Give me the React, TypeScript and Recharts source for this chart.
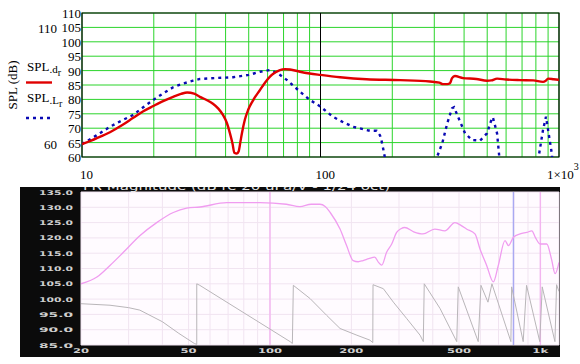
import React from 'react';
import { LineChart, Line, XAxis, YAxis, CartesianGrid, ReferenceLine, ReferenceArea } from 'recharts';

// ---------- Top chart (Mathcad style) ----------
const topFreqTicks = [10, 20, 30, 40, 50, 60, 70, 80, 90, 100, 200, 300, 400, 500, 600, 700, 800, 900, 1000];
const topSplTicks = [60, 65, 70, 75, 80, 85, 90, 95, 100, 105, 110];
const topXLabelValues = [10, 100, 1000];

const redFreq = [10, 11.5, 13.1, 14.7, 16.4, 18, 19.9, 22, 24.1, 26, 27.6, 29.5, 31.2, 33.3, 35.4, 37.3, 39, 40.5, 41.7, 42.8, 43.5, 44.6, 45.4, 46.2, 46.9, 48.2, 49.7, 52, 55.8, 58.5, 61.4, 64.5, 67.6, 71, 74.5, 82, 90, 100, 120.8, 156, 216, 287.7, 315, 326, 340, 349, 356, 366, 396, 450, 499, 520, 550, 600, 686, 780, 857, 880, 900, 950, 1000];
const redSPL = [64.5, 66.5, 68.6, 71, 73.6, 75.8, 77.7, 79.5, 80.9, 81.9, 82.4, 82, 80.9, 79.8, 78.5, 76.8, 74.6, 71.8, 68.3, 64.5, 61.5, 61.2, 62, 65.5, 68.5, 73, 76.3, 79.5, 83.3, 85.8, 87.9, 89.3, 90.2, 90.5, 90.4, 89.6, 89, 88.5, 87.7, 87, 86.7, 86.2, 85.8, 85.3, 85.3, 85.6, 87.4, 88.1, 87.4, 87.1, 86.5, 86.6, 87.2, 86.9, 86.7, 86.6, 86.1, 86.5, 87.2, 87, 86.8];

const blueFreq = [10, 11.5, 13.1, 14.7, 16.4, 18, 19.9, 22, 24.1, 26.5, 29.2, 31.2, 36, 43, 50, 55.8, 61.4, 65.6, 72.4, 82, 90.3, 100, 112.6, 125, 136.7, 161, 172, 177.6, 180, 183, 186, 189, 304, 308, 324, 340, 356, 363, 377, 404, 432, 467, 499, 523, 528, 550, 561, 565, 820, 824, 857, 882, 900, 935, 940, 1000];
const blueSPL = [64.5, 67.5, 70.5, 72.7, 74.6, 77.2, 79.8, 82.2, 84.2, 85.5, 86.5, 87.1, 87.4, 87.7, 88.5, 89.6, 90.2, 89.3, 86.7, 82.7, 79.8, 77.5, 74, 72, 70.5, 69.1, 69.1, 67.5, 65.9, 63, 60, 45, 45, 60, 64.8, 71.7, 76.9, 77.3, 74, 68.2, 65.9, 65.7, 68.2, 73.4, 73.8, 68.2, 60.7, 45, 45, 60.7, 69.4, 74, 69.4, 60.7, 45, 45];

// ---------- Bottom chart (REW style) ----------
const botFreqTicks = [20, 30, 40, 50, 60, 70, 80, 90, 100, 200, 300, 400, 500, 600, 700, 800, 900, 1000];
const botDbTicks = [85, 90, 95, 100, 105, 110, 115, 120, 125, 130, 135];
const botXLabelValues = [20, 50, 100, 200, 500, 1000];
const botXLabelTexts = ['20', '50', '100', '200', '500', '1k'];
const botTitle = 'FR Magnitude (dB re 20 uPa/V - 1/24 oct)';
const markerPink = [100, 1000];
const markerBlue = [795];

const pinkFreq = [20, 22.9, 25.6, 28.7, 33, 38.1, 43.9, 49.2, 55.1, 69.2, 91.8, 115, 129, 142, 153, 160, 167, 181.6, 192, 203, 212, 221, 232, 244, 252, 259, 270, 282, 294, 305, 315, 340, 368, 407, 443, 483, 510, 533, 573, 598, 633, 670, 699, 740, 762, 795, 842, 891, 930, 960, 998, 1056, 1100, 1134, 1172];
const pinkDb = [105, 107.2, 111, 115.3, 120.7, 125, 128.3, 129.7, 130.1, 131.5, 131.5, 131, 130.2, 131, 131, 130.3, 128.3, 122.9, 117.5, 112.6, 112.2, 112.6, 113.2, 113.7, 112, 111.1, 115.3, 118, 121.8, 123, 123.4, 122, 121.3, 122.9, 122.3, 125, 124, 122.9, 121.3, 116.4, 111, 105.6, 111, 119.1, 117.5, 120.2, 121.3, 121.8, 122.3, 120, 118, 118, 113, 108.3, 112];

const grayFreq = [20, 25.6, 30, 33, 40, 46, 52.5, 53.6, 53.6, 55, 118.7, 121, 122, 140.6, 162, 181.6, 209.6, 234, 240, 240.5, 262.6, 286, 320, 359, 369, 372, 425.8, 490.6, 497, 589, 603, 640, 662, 778, 783, 864, 889, 995, 1016, 1132, 1148, 1172];
const grayDb = [98.5, 98, 97.2, 96.4, 92.6, 88.8, 85.5, 85.2, 105, 104.5, 86.1, 85.5, 104.5, 100.2, 94.7, 90.4, 88.2, 86.6, 85.8, 104.7, 103.4, 99, 93.7, 88.2, 86.1, 105, 96.9, 86.1, 104, 86.1, 104.5, 99, 105, 86.1, 104, 86.1, 104.5, 86.1, 104, 86.1, 104.7, 102.5];

const redData = redFreq.map((f, i) => ({ f, v: redSPL[i] }));
const blueData = blueFreq.map((f, i) => ({ f, v: blueSPL[i] }));
const pinkData = pinkFreq.map((f, i) => ({ f, v: pinkDb[i] }));
const grayData = grayFreq.map((f, i) => ({ f, v: grayDb[i] }));

const SERIF = '"Liberation Serif", "Times New Roman", serif';
const SANS = '"DejaVu Sans", sans-serif';

const TopXTick = (props: any) => {
  const { x, y, payload } = props;
  const v = payload.value;
  if (!topXLabelValues.includes(v)) return <g />;
  if (v === 1000) {
    return (
      <text x={x - 12} y={y + 22} fontFamily={SERIF} fontSize={13} fill="#000">
        1×10<tspan dy={-9} fontSize={10}>3</tspan>
      </text>
    );
  }
  const dx = v === 10 ? -2 : -5;
  return (
    <text x={x + dx} y={y + 22} fontFamily={SERIF} fontSize={13} fill="#000">
      {String(v)}
    </text>
  );
};

const TopYTick = (props: any) => {
  const { x, y, payload } = props;
  return (
    <text x={x - 1} y={y + 5} textAnchor="end" fontFamily={SERIF} fontSize={13} fill="#000">
      {String(payload.value)}
    </text>
  );
};

const BotXTick = (props: any) => {
  const { x, y, payload } = props;
  const idx = botXLabelValues.indexOf(payload.value);
  if (idx < 0) return <g />;
  const t = botXLabelTexts[idx];
  const w = t.length * 8;
  return (
    <text x={x - w / 2} y={y + 8} textLength={w} lengthAdjust="spacingAndGlyphs" fontFamily={SANS} fontWeight="bold" fontSize={6.5} fill="#cfcfcf">
      {t}
    </text>
  );
};

const BotYTick = (props: any) => {
  const { x, y, payload } = props;
  return (
    <text x={x - 42} y={y + 2.5} textLength={34} lengthAdjust="spacingAndGlyphs" fontFamily={SANS} fontWeight="bold" fontSize={6.5} fill="#cfcfcf">
      {Number(payload.value).toFixed(1)}
    </text>
  );
};

export default function App() {
  return (
    <div style={{ position: 'absolute', left: 0, top: 0, width: 580, height: 364, background: '#fff', overflow: 'hidden' }}>
      {/* Top chart */}
      <div style={{ position: 'absolute', left: 0, top: 0 }}>
        <LineChart width={580} height={185} margin={{ top: 13, right: 21, left: 0, bottom: 0 }}>
          <CartesianGrid stroke="#2bd42b" strokeWidth={1} fill="#fff" />
          <XAxis
            dataKey="f"
            type="number"
            scale="log"
            domain={[10, 1000]}
            allowDataOverflow
            ticks={topFreqTicks}
            interval={0}
            tick={<TopXTick />}
            tickSize={0}
            tickMargin={0}
            axisLine={false}
            tickLine={false}
            height={28}
          />
          <YAxis
            type="number"
            domain={[60, 110]}
            allowDataOverflow
            ticks={topSplTicks}
            interval={0}
            tick={<TopYTick />}
            tickSize={0}
            tickMargin={0}
            axisLine={false}
            tickLine={false}
            width={82}
          />
          <ReferenceLine x={100} stroke="#000" strokeWidth={1} />
          <ReferenceArea x1={10} x2={1000} y1={60} y2={110} fill="none" stroke="#000" strokeWidth={1.2} />
          <Line data={blueData} dataKey="v" type="linear" stroke="#0a0ab4" strokeWidth={2.4} strokeDasharray="3 4" dot={false} isAnimationActive={false} />
          <Line data={redData} dataKey="v" type="monotone" stroke="#e00000" strokeWidth={2.4} dot={false} isAnimationActive={false} />
        </LineChart>
      </div>

      {/* Top chart decorations */}
      <svg width={580} height={186} style={{ position: 'absolute', left: 0, top: 0 }}>
        <text x={57} y={33} textAnchor="end" fontFamily={SERIF} fontSize={13}>110</text>
        <text x={57} y={149} textAnchor="end" fontFamily={SERIF} fontSize={13}>60</text>
        <text transform="translate(17,85) rotate(-90)" textAnchor="middle" fontFamily={SERIF} fontSize={13}>SPL (dB)</text>
        <text x={27} y={71} fontFamily={SERIF} fontSize={13}>
          SPL<tspan fontSize={11} dy={1.5}>.d</tspan><tspan fontSize={10} dy={3}>r</tspan>
        </text>
        <line x1={26} x2={52} y1={82.5} y2={82.5} stroke="#e00000" strokeWidth={2.4} />
        <text x={27} y={102} fontFamily={SERIF} fontSize={13}>
          SPL<tspan fontSize={11} dy={1.5}>.L</tspan><tspan fontSize={10} dy={3}>r</tspan>
        </text>
        <line x1={26} x2={52} y1={118} y2={118} stroke="#0a0ab4" strokeWidth={2.4} strokeDasharray="3 4" />
      </svg>

      {/* Bottom chart black band */}
      <div style={{ position: 'absolute', left: 20, top: 187, width: 540, height: 170, background: '#0b0b0b' }} />

      {/* Bottom chart */}
      <div style={{ position: 'absolute', left: 0, top: 187 }}>
        <LineChart width={580} height={170} margin={{ top: 5, right: 21, left: 0, bottom: 0 }}>
          <CartesianGrid stroke="#f1e4f1" strokeWidth={1} fill="#fffbff" />
          <XAxis
            dataKey="f"
            type="number"
            scale="log"
            domain={[20, 1172]}
            allowDataOverflow
            ticks={botFreqTicks}
            interval={0}
            tick={<BotXTick />}
            tickSize={0}
            tickMargin={0}
            axisLine={false}
            tickLine={false}
            height={12}
          />
          <YAxis
            type="number"
            domain={[85, 135]}
            allowDataOverflow
            ticks={botDbTicks}
            interval={0}
            tick={<BotYTick />}
            tickSize={0}
            tickMargin={0}
            axisLine={false}
            tickLine={false}
            width={81}
          />
          {markerPink.map((m) => (
            <ReferenceLine key={'p' + m} x={m} stroke="#f3b4f0" strokeWidth={1.4} />
          ))}
          {markerBlue.map((m) => (
            <ReferenceLine key={'b' + m} x={m} stroke="#a9a9f2" strokeWidth={1.4} />
          ))}
          <Line data={grayData} dataKey="v" type="linear" stroke="#b9b6b9" strokeWidth={1} dot={false} isAnimationActive={false} />
          <Line data={pinkData} dataKey="v" type="monotone" stroke="#f09cf0" strokeWidth={1.3} dot={false} isAnimationActive={false} />
        </LineChart>
      </div>

      {/* Bottom chart title (clipped at the band top) */}
      <svg width={580} height={5} style={{ position: 'absolute', left: 0, top: 187 }}>
        <text x={83} y={3} textLength={307} lengthAdjust="spacingAndGlyphs" fontFamily={SANS} fontSize={10} fill="#e8e8e8">
          {botTitle}
        </text>
      </svg>
    </div>
  );
}
